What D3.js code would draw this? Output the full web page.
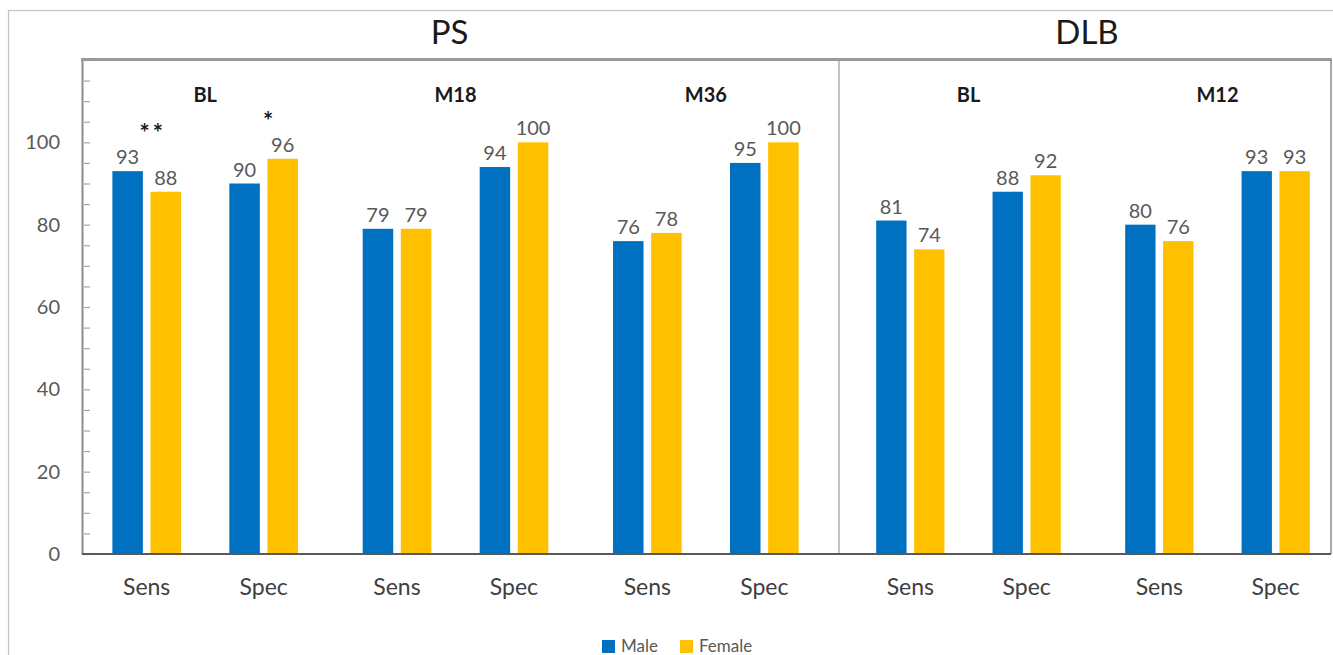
<!DOCTYPE html>
<html>
<head>
<meta charset="utf-8">
<script src="https://cdn.jsdelivr.net/npm/d3@7"></script>
<style>
  html, body { margin: 0; padding: 0; background: #fff; }
  svg { display: block; font-family: Lato, "Open Sans", sans-serif; }
</style>
</head>
<body>
<svg id="chart" width="1333" height="655"></svg>
<script>
// ---- data ----
const panelNames = ["PS", "DLB"];
const psGroups = ["BL", "M18", "M36"];
const dlbGroups = ["BL", "M12"];
const measures = ["Sens", "Spec"];
const seriesNames = ["Male", "Female"];
// values listed group by group, Sens then Spec
const psMale = [93, 90, 79, 94, 76, 95];
const psFemale = [88, 96, 79, 100, 78, 100];
const dlbMale = [81, 88, 80, 93];
const dlbFemale = [74, 92, 76, 93];
// significance marks, same order as the values
const psStars = ["**", "*", "", "", "", ""];
const dlbStars = ["", "", "", ""];
const yTicks = [0, 20, 40, 60, 80, 100];

// ---- layout ----
const W = 1333, H = 655;
const plot = { left: 82, right: 1331, top: 60, bottom: 554 };
const panelSplit = 839;
const colors = { Male: "#0070C0", Female: "#FFC000" };

const svg = d3.select("#chart");

// outer frame of the figure
svg.append("rect")
  .attr("x", 8.5).attr("y", 10.5)
  .attr("width", W + 20).attr("height", H + 20)
  .attr("fill", "none").attr("stroke", "#c4c4c4").attr("stroke-width", 1.2);

const y = d3.scaleLinear().domain([0, 120]).range([plot.bottom, plot.top]);

// panels with their own group scales
const panels = [
  { name: panelNames[0], groups: psGroups, male: psMale, female: psFemale, stars: psStars, range: [80, 831] },
  { name: panelNames[1], groups: dlbGroups, male: dlbMale, female: dlbFemale, stars: dlbStars, range: [844, 1342] }
];

panels.forEach(p => {
  p.gx = d3.scaleBand().domain(p.groups).range(p.range).paddingInner(0).paddingOuter(0);
  p.mx = d3.scaleBand().domain(measures).range([0, p.gx.bandwidth()]).paddingInner(0).paddingOuter(0.07);
  p.sx = d3.scaleBand().domain(seriesNames).range([0, p.mx.bandwidth()]).paddingInner(0.2).paddingOuter(0.634);
  p.rows = [];
  p.groups.forEach((g, gi) => {
    measures.forEach((m, mi) => {
      const i = gi * measures.length + mi;
      p.rows.push({ group: g, measure: m, Male: p.male[i], Female: p.female[i], star: p.stars[i] });
    });
  });
});

// y axis with minor ticks every 5, labels every 20
const yAxis = d3.axisLeft(y)
  .tickValues(d3.range(0, 121, 5))
  .tickSizeInner(-8).tickSizeOuter(0).tickPadding(22)
  .tickFormat(d => yTicks.includes(d) ? d : "");
const ya = svg.append("g").attr("transform", `translate(${plot.left},0)`).call(yAxis);
ya.select(".domain").attr("stroke", "#8c8c8c").attr("stroke-width", 2);
ya.selectAll(".tick line").attr("stroke", "#a6a6a6").attr("stroke-width", 1.2);
ya.selectAll(".tick text")
  .attr("fill", "#595959").attr("font-size", 20)
  .attr("font-family", "Lato, sans-serif");

// frame of the plot area
svg.append("line")
  .attr("x1", plot.left - 1).attr("x2", plot.right + 1)
  .attr("y1", plot.top - 0.5).attr("y2", plot.top - 0.5)
  .attr("stroke", "#9a9a9a").attr("stroke-width", 3);
svg.append("line")
  .attr("x1", plot.right).attr("x2", plot.right)
  .attr("y1", plot.top).attr("y2", plot.bottom)
  .attr("stroke", "#8c8c8c").attr("stroke-width", 1.5);
svg.append("line")
  .attr("x1", panelSplit).attr("x2", panelSplit)
  .attr("y1", plot.top).attr("y2", plot.bottom)
  .attr("stroke", "#9a9a9a").attr("stroke-width", 1.2);

panels.forEach(p => {
  const [r0, r1] = p.range;
  // panel title
  svg.append("text")
    .attr("x", (r0 + r1) / 2 - 6).attr("y", 44)
    .attr("text-anchor", "middle")
    .attr("font-size", 33).attr("fill", "#1a1a1a")
    .text(p.name);

  // group labels
  svg.append("g").selectAll("text").data(p.groups).join("text")
    .attr("x", g => p.gx(g) + p.gx.bandwidth() / 2)
    .attr("y", 102)
    .attr("text-anchor", "middle")
    .attr("font-size", 20).attr("font-weight", "bold").attr("fill", "#1a1a1a")
    .text(g => g);

  const cells = svg.append("g").selectAll("g").data(p.rows).join("g")
    .attr("transform", d => `translate(${p.gx(d.group) + p.mx(d.measure)},0)`);

  // bars
  cells.selectAll("rect").data(d => seriesNames.map(s => ({ s, v: d[s] }))).join("rect")
    .attr("x", d => p.sx(d.s))
    .attr("y", d => y(d.v))
    .attr("width", p.sx.bandwidth())
    .attr("height", d => y(0) - y(d.v))
    .attr("fill", d => colors[d.s]);

  // value labels
  cells.selectAll("text.val").data(d => seriesNames.map(s => ({ s, v: d[s] }))).join("text")
    .attr("class", "val")
    .attr("x", d => p.sx(d.s) + p.sx.bandwidth() / 2)
    .attr("y", d => y(d.v) - 7)
    .attr("text-anchor", "middle")
    .attr("font-size", 20).attr("fill", "#595959")
    .text(d => d.v);

  // category labels
  cells.append("text")
    .attr("x", p.mx.bandwidth() / 2)
    .attr("y", 595)
    .attr("text-anchor", "middle")
    .attr("font-size", 23).attr("fill", "#404040")
    .text(d => d.measure);

  // significance stars
  cells.filter(d => d.star).append("text")
    .attr("x", p.mx.bandwidth() / 2 + 6)
    .attr("y", d => y(Math.max(d.Male, d.Female)) - 29)
    .attr("text-anchor", "middle")
    .attr("font-size", 24).attr("font-weight", "bold").attr("fill", "#1a1a1a")
    .attr("letter-spacing", 3)
    .text(d => d.star);
});

// baseline
svg.append("line")
  .attr("x1", plot.left).attr("x2", plot.right)
  .attr("y1", plot.bottom).attr("y2", plot.bottom)
  .attr("stroke", "#595959").attr("stroke-width", 2);

// legend
const legend = svg.append("g").attr("transform", "translate(602,640)");
const li = legend.selectAll("g").data(seriesNames).join("g")
  .attr("transform", (d, i) => `translate(${i * 78},0)`);
li.append("rect").attr("width", 13).attr("height", 13).attr("fill", d => colors[d]);
li.append("text").attr("x", 19).attr("y", 12)
  .attr("font-size", 17).attr("fill", "#595959")
  .text(d => d);
</script>
</body>
</html>
